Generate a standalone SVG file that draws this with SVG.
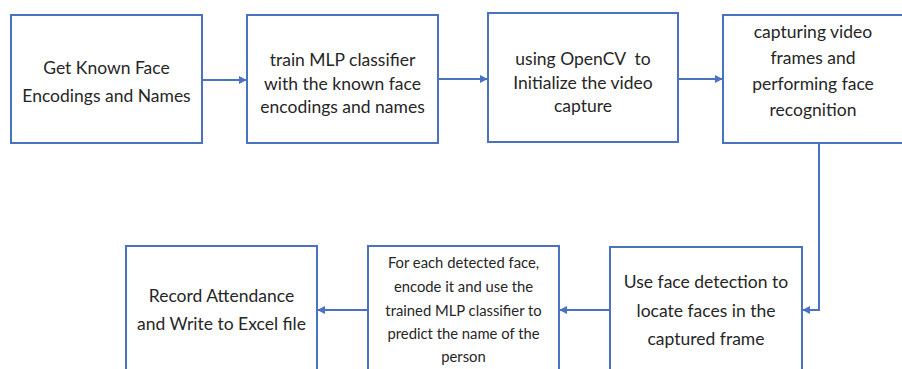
<svg xmlns="http://www.w3.org/2000/svg" width="902" height="369" viewBox="0 0 902 369">
  <style>
    .box { fill: #ffffff; stroke: #4a72c0; stroke-width: 2; }
    .lbl { font-family: Lato, "Open Sans", sans-serif; font-size: 17.5px; fill: #262626; text-anchor: middle; }
    .sm { font-size: 14.8px; }
    .conn { fill: none; stroke: #4a72c0; stroke-width: 2; marker-end: url(#arrow); }
  </style>
  <defs>
    <marker id="arrow" viewBox="0 0 10 10" refX="9" refY="5" markerWidth="4" markerHeight="4" orient="auto" markerUnits="strokeWidth">
      <path d="M0,0 L10,5 L0,10 z" fill="#4a72c0"/>
    </marker>
  </defs>
  <rect width="902" height="369" fill="#ffffff"/>

  <g id="connectors">
    <path class="conn" d="M202,80 L246,80"/>
    <path class="conn" d="M438,79 L487,79"/>
    <path class="conn" d="M678,79 L722,79"/>
    <path class="conn" d="M819,143 L819,310 L803,310"/>
    <path class="conn" d="M610,310 L560,310"/>
    <path class="conn" d="M368,310 L318,310"/>
  </g>

  <g id="known-faces">
    <rect class="box" x="11" y="15" width="191" height="128"/>
    <text class="lbl" x="106.5" y="74">Get Known Face</text>
    <text class="lbl" x="106.5" y="102">Encodings and Names</text>
  </g>

  <g id="train-mlp">
    <rect class="box" x="247" y="15" width="191" height="128"/>
    <text class="lbl" x="342.5" y="66">train MLP classifier</text>
    <text class="lbl" x="342.5" y="90">with the known face</text>
    <text class="lbl" x="342.5" y="113">encodings and names</text>
  </g>

  <g id="init-capture">
    <rect class="box" x="488" y="13" width="190" height="129"/>
    <text class="lbl" x="583" y="65" xml:space="preserve">using OpenCV  to</text>
    <text class="lbl" x="583" y="89">Initialize the video</text>
    <text class="lbl" x="583" y="112">capture</text>
  </g>

  <g id="capture-frames">
    <rect class="box" x="723" y="15" width="190" height="128"/>
    <text class="lbl" x="813" y="38">capturing video</text>
    <text class="lbl" x="813" y="64">frames and</text>
    <text class="lbl" x="813" y="90">performing face</text>
    <text class="lbl" x="813" y="116">recognition</text>
  </g>

  <g id="detect-faces">
    <rect class="box" x="610" y="247" width="192" height="140"/>
    <text class="lbl" x="706" y="288">Use face detection to</text>
    <text class="lbl" x="706" y="317">locate faces in the</text>
    <text class="lbl" x="706" y="345">captured frame</text>
  </g>

  <g id="predict-name">
    <rect class="box" x="368" y="246" width="191" height="140"/>
    <text class="lbl sm" x="463.5" y="268">For each detected face,</text>
    <text class="lbl sm" x="463.5" y="292">encode it and use the</text>
    <text class="lbl sm" x="463.5" y="316">trained MLP classifier to</text>
    <text class="lbl sm" x="463.5" y="339">predict the name of the</text>
    <text class="lbl sm" x="463.5" y="362">person</text>
  </g>

  <g id="record-attendance">
    <rect class="box" x="126" y="246" width="191" height="140"/>
    <text class="lbl" x="221.5" y="302">Record Attendance</text>
    <text class="lbl" x="221.5" y="330">and Write to Excel file</text>
  </g>
</svg>
